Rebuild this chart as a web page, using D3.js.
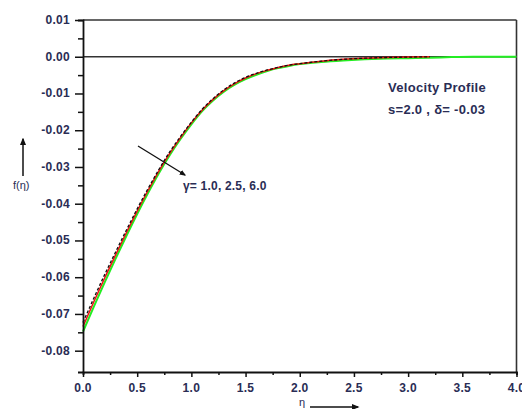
<!DOCTYPE html>
<html><head><meta charset="utf-8">
<script src="https://cdn.jsdelivr.net/npm/d3@7"></script>
<style>body{margin:0;background:#fff}svg{display:block}</style>
</head><body>
<script>
const etaRB = [0,0.1,0.2,0.3,0.4,0.5,0.6,0.7,0.8,0.9,1.0,1.1,1.2,1.3,1.4,1.5,1.6,1.7,1.8,1.9,2.0,2.2,2.4,2.6,2.8,3.0,3.2];
const fBlack = [-0.0723,-0.0657,-0.0593,-0.0532,-0.0472,-0.0414,-0.0359,-0.0307,-0.0259,-0.0217,-0.0178,-0.0143,-0.0114,-0.0090,-0.0071,-0.0056,-0.0045,-0.0036,-0.0029,-0.0023,-0.0019,-0.0012,-0.0007,-0.0004,-0.0002,-0.0001,0];
const fRed   = [-0.0734,-0.0667,-0.0602,-0.0540,-0.0479,-0.0420,-0.0364,-0.0311,-0.0263,-0.0220,-0.0180,-0.0145,-0.0116,-0.0092,-0.0073,-0.0058,-0.0046,-0.0037,-0.0029,-0.0023,-0.0019,-0.0012,-0.0007,-0.0004,-0.0002,-0.0001,0];
const etaG = [0,0.1,0.2,0.3,0.4,0.5,0.6,0.7,0.8,0.9,1.0,1.1,1.2,1.3,1.4,1.5,1.6,1.7,1.8,1.9,2.0,2.2,2.4,2.6,2.8,3.0,3.2,3.4,3.6,3.8,4.0];
const fGreen = [-0.0748,-0.0680,-0.0614,-0.0550,-0.0488,-0.0428,-0.0371,-0.0317,-0.0268,-0.0224,-0.0184,-0.0148,-0.0119,-0.0095,-0.0076,-0.0061,-0.0049,-0.0039,-0.0031,-0.0025,-0.0020,-0.0014,-0.0010,-0.0007,-0.0005,-0.0004,-0.0003,-0.0001,0,0,0];
const xTicks = [0,0.5,1.0,1.5,2.0,2.5,3.0,3.5,4.0];
const yTicks = [0.01,0,-0.01,-0.02,-0.03,-0.04,-0.05,-0.06,-0.07,-0.08];
const annotation = "γ= 1.0, 2.5, 6.0";
const legend1 = "Velocity Profile";
const legend2 = "s=2.0 , δ= -0.03";

const W=522,H=409;
const svg=d3.select("body").append("svg").attr("width",W).attr("height",H);
const x=d3.scaleLinear().domain([0,4]).range([83,516.5]);
const y=d3.scaleLinear().domain([-0.0858,0.01]).range([372,20]);
const font="Liberation Sans, Arial, sans-serif";
const tcol="#2a2d55";
const defs=svg.append("defs");
defs.append("marker").attr("id","ah").attr("viewBox","0 0 10 10").attr("refX",8).attr("refY",5)
  .attr("markerWidth",5).attr("markerHeight",5).attr("orient","auto")
  .append("path").attr("d","M0,1 L10,5 L0,9 Z").attr("fill","#111");

// frame top/right
svg.append("line").attr("x1",x(0)).attr("x2",x(4)).attr("y1",y(0.01)).attr("y2",y(0.01)).attr("stroke","#333").attr("stroke-width",1.6);
svg.append("line").attr("x1",x(4)).attr("x2",x(4)).attr("y1",y(0.01)).attr("y2",372).attr("stroke","#333").attr("stroke-width",1.6);
// zero line
svg.append("line").attr("x1",x(0)).attr("x2",x(4)).attr("y1",y(0)).attr("y2",y(0)).attr("stroke","#333").attr("stroke-width",1.6);

// curves
const line=d3.line().x(d=>x(d[0])).y(d=>y(d[1])).curve(d3.curveMonotoneX);
svg.append("path").datum(etaG.map((e,i)=>[e,fGreen[i]])).attr("d",line).attr("fill","none").attr("stroke","#22ee22").attr("stroke-width",2);
svg.append("path").datum(etaRB.map((e,i)=>[e,fRed[i]])).attr("d",line).attr("fill","none").attr("stroke","#ee1111").attr("stroke-width",1.5);
svg.append("path").datum(etaRB.map((e,i)=>[e,fBlack[i]])).attr("d",line).attr("fill","none").attr("stroke","#111").attr("stroke-width",1.3).attr("stroke-dasharray","3,2");

// axes
const xAxis=svg.append("g").attr("transform","translate(0,372)");
xAxis.call(d3.axisBottom(x).tickValues(d3.range(0,4.01,0.25)).tickSize(3).tickFormat(""));
xAxis.call(g=>g.selectAll(".tick").filter(d=>Math.abs(d*2-Math.round(d*2))<1e-6).select("line").attr("y2",5));
xAxis.select(".domain").attr("stroke","#111").attr("stroke-width",1.8);
xAxis.selectAll(".tick line").attr("stroke","#111").attr("stroke-width",1.5);
svg.append("g").selectAll("text").data(xTicks).join("text")
  .attr("x",d=>x(d)).attr("y",391.5).attr("text-anchor","middle")
  .attr("font-family",font).attr("font-size",12).attr("font-weight","bold").attr("letter-spacing",0.3).attr("fill",tcol)
  .text(d=>d.toFixed(1));

const yAxis=svg.append("g").attr("transform","translate(83,0)");
yAxis.call(d3.axisLeft(y).tickValues(d3.range(-16,3).map(i=>i*0.005)).tickSize(5).tickFormat(""));
yAxis.call(g=>g.selectAll(".tick").filter(d=>Math.abs(d*100-Math.round(d*100))<1e-6).select("line").attr("x2",-8));
yAxis.select(".domain").attr("stroke","#111").attr("stroke-width",1.8);
yAxis.selectAll(".tick line").attr("stroke","#111").attr("stroke-width",1.5);
svg.append("g").selectAll("text").data(yTicks).join("text")
  .attr("x",70).attr("y",d=>y(d)+4).attr("text-anchor","end")
  .attr("font-family",font).attr("font-size",12).attr("font-weight","bold").attr("letter-spacing",0.3).attr("fill",tcol)
  .text(d=>d.toFixed(2));

// axis titles
svg.append("text").attr("x",13).attr("y",189).attr("font-family",font).attr("font-size",11).attr("fill",tcol).text("f(η)");
svg.append("line").attr("x1",23).attr("x2",23).attr("y1",176).attr("y2",139).attr("stroke","#111").attr("stroke-width",1.5).attr("marker-end","url(#ah)");
svg.append("text").attr("x",299).attr("y",406).attr("font-family",font).attr("font-size",11).attr("fill",tcol).text("η");
svg.append("line").attr("x1",310).attr("x2",358).attr("y1",407).attr("y2",407).attr("stroke","#111").attr("stroke-width",1.5).attr("marker-end","url(#ah)");

// annotation
svg.append("line").attr("x1",138).attr("y1",146).attr("x2",185).attr("y2",175).attr("stroke","#111").attr("stroke-width",1.3).attr("marker-end","url(#ah)");
svg.append("text").attr("x",183).attr("y",189.5).attr("font-family",font).attr("font-size",12).attr("font-weight","bold").attr("letter-spacing",0.2).attr("fill",tcol).text(annotation);

// legend
svg.append("text").attr("x",388).attr("y",92).attr("font-family",font).attr("font-size",13).attr("font-weight","bold").attr("letter-spacing",0.3).attr("fill",tcol).text(legend1);
svg.append("text").attr("x",388).attr("y",114).attr("font-family",font).attr("font-size",13).attr("font-weight","bold").attr("letter-spacing",0.3).attr("fill",tcol).text(legend2);
</script>
</body></html>
